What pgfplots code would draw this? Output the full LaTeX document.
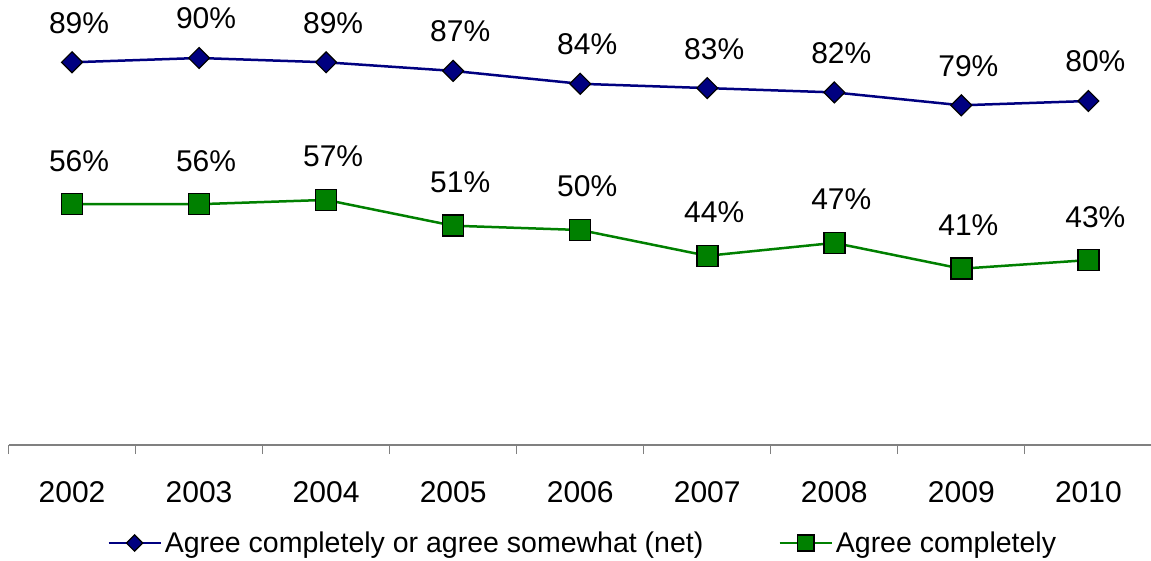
\documentclass[border=0pt]{standalone}
\usepackage{pgfplots}
\pgfplotsset{compat=1.18}
\usepackage{fontspec}
\setmainfont{Liberation Sans}
\definecolor{netc}{RGB}{0,0,128}
\definecolor{compc}{RGB}{0,128,0}
\definecolor{axc}{RGB}{128,128,128}
\begin{document}
\begin{tikzpicture}[x=1pt,y=1pt,font=\fontsize{30}{36}\selectfont]
\useasboundingbox (0,0) rectangle (1151,560);
\begin{axis}[
  at={(8.5pt,115pt)}, anchor=south west,
  scale only axis, width=1143.5pt, height=430pt,
  xmin=-0.5, xmax=8.5, ymin=0, ymax=100,
  axis x line*=bottom, axis y line=none,
  x axis line style={draw=axc, line width=1.2pt, -},
  xtick={0,...,8},
  xticklabels={2002,2003,2004,2005,2006,2007,2008,2009,2010},
  major tick length=0pt,
  minor xtick={-0.5,0.5,...,8.5},
  minor tick length=9pt,
  tick align=outside,
  every minor tick/.style={draw=axc, line width=1.2pt},
  xticklabel style={anchor=base, yshift=-57pt, text=black},
  /pgf/number format/assume math mode=true,
  clip=false,
  nodes near coords={\pgfmathprintnumber{\pgfplotspointmeta}\%},
  legend columns=2,
  legend style={draw=none, fill=none, at={(0.5,0)}, anchor=center, yshift=-98pt, xshift=3pt,
    font=\fontsize{28.5}{34}\selectfont,
    /tikz/every even column/.append style={column sep=72pt},
    nodes={inner xsep=3pt, inner ysep=2pt}},
  legend image code/.code={\draw[mark repeat=2,mark phase=2,#1] plot coordinates {(0pt,0pt) (26pt,0pt) (52pt,0pt)};},
  legend image post style={every mark/.append style={scale=0.78}},
]
\addplot[color=netc, line width=2.5pt, mark=square*, mark size=7.4pt,
  mark options={rotate=45, fill=netc, draw=black, line width=1.2pt},
  every node near coord/.append style={anchor=base, yshift=29pt, xshift=7pt, text=black}]
  coordinates {(0,89) (1,90) (2,89) (3,87) (4,84) (5,83) (6,82) (7,79) (8,80)};
\addlegendentry{Agree completely or agree somewhat (net)}
\addplot[color=compc, line width=2.5pt, mark=square*, mark size=10.5pt,
  mark options={fill=compc, draw=black, line width=1.5pt},
  every node near coord/.append style={anchor=base, yshift=33pt, xshift=7pt, text=black}]
  coordinates {(0,56) (1,56) (2,57) (3,51) (4,50) (5,44) (6,47) (7,41) (8,43)};
\addlegendentry{Agree completely}
\end{axis}
\end{tikzpicture}
\end{document}
